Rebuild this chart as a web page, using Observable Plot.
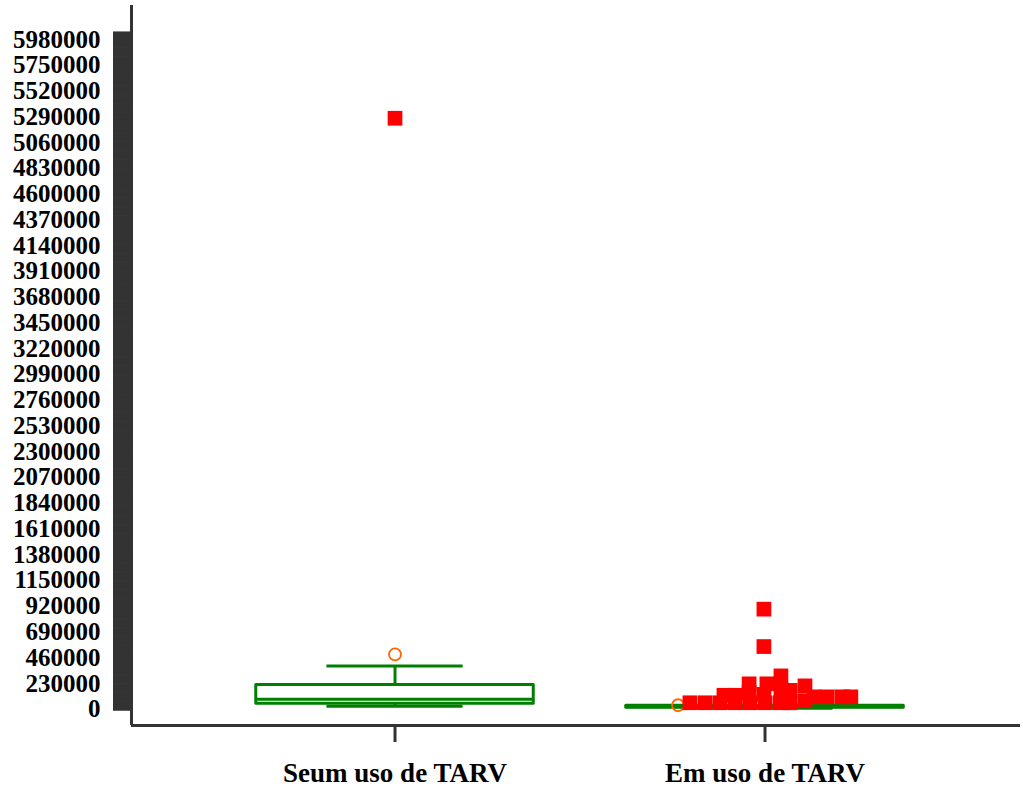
<!DOCTYPE html>
<html>
<head>
<meta charset="utf-8">
<script src="https://cdn.jsdelivr.net/npm/d3@7"></script>
<script src="https://cdn.jsdelivr.net/npm/@observablehq/plot@0.6"></script>
<style>
  html, body { margin: 0; padding: 0; background: #fff; }
</style>
</head>
<body>
<div id="chart"></div>
<script>
// Groups
const groups = ["Seum uso de TARV", "Em uso de TARV"];
const groupPos = [1, 2];

// Box statistics
const whiskerLow  = [27000, 10000];
const q1          = [49000, 13000];
const median      = [89000, 22000];
const q3          = [216000, 32000];
const whiskerHigh = [386000, 32000];

// Open circles (one per group)
const circleOffset = [0, -0.235];
const circleValue  = [490000, 36000];

// Red squares (jittered points)
const group1Offsets = [0];
const group1Values  = [5278000];
const group2Offsets = [-0.203, -0.162, -0.122, -0.081, -0.041, 0, 0.041, 0.068,
                       0.108, -0.111, -0.081, -0.043, 0.005, -0.043, -0.003,
                       0.043, 0.043, 0.068, 0.108, 0.132, 0.168, 0.208, 0.232,
                       -0.003, -0.003];
const group2Values  = [58000, 58000, 58000, 58000, 58000, 58000, 58000, 58000,
                       76000, 125000, 125000, 227000, 227000, 151000, 133000,
                       298000, 178000, 169000, 209000, 111000, 111000, 111000, 111000,
                       560000, 894000];

// Y tick labels
const yTicks = d3.range(0, 5980001, 230000);
const bandTicks = d3.range(0, 6040001, 20000);

const boxes = groups.map((g, i) => ({
  g, x: groupPos[i], lo: whiskerLow[i], q1: q1[i], med: median[i], q3: q3[i], hi: whiskerHigh[i]
}));
const circles = groups.map((g, i) => ({ x: groupPos[i] + circleOffset[i], y: circleValue[i] }));
const squares = [
  ...group1Values.map((v, i) => ({ x: groupPos[0] + group1Offsets[i], y: v })),
  ...group2Values.map((v, i) => ({ x: groupPos[1] + group2Offsets[i], y: v }))
];

const halfBox = 0.375, halfCap = 0.184;
const xDomain = [0.2878, 2.6905];
const yDomain = [-145000, 6285000];
const font = "'Liberation Serif', 'Times New Roman', serif";

const chart = Plot.plot({
  width: 1023,
  height: 787,
  marginLeft: 131,
  marginRight: 3,
  marginTop: 5,
  marginBottom: 62,
  style: { fontFamily: font, fontWeight: "bold", background: "#fff" },
  x: { type: "linear", domain: xDomain, label: null },
  y: { domain: yDomain, label: null },
  marks: [
    // dense tick band
    Plot.axisY(bandTicks, { tickSize: 18, strokeWidth: 3, stroke: "#333", tickFormat: () => "", label: null }),
    // labels
    Plot.axisY(yTicks, { tickSize: 0, tickPadding: 31, fontSize: 25, fill: "#000", label: null,
      fontWeight: "bold", fontFamily: font, tickFormat: d => String(d) }),
    Plot.axisX(groupPos, { tickSize: 17, tickPadding: 20, strokeWidth: 3, stroke: "#333", label: null,
      fill: "#000", fontSize: 27, fontWeight: "bold", fontFamily: font,
      tickFormat: d => groups[d - 1] }),
    Plot.ruleX([xDomain[0]], { y1: yDomain[0], y2: yDomain[1], stroke: "#333", strokeWidth: 3 }),
    Plot.ruleY([yDomain[0]], { x1: xDomain[0], x2: xDomain[1], stroke: "#333", strokeWidth: 3 }),
    // boxplot
    Plot.ruleX(boxes, { x: "x", y1: "q3", y2: "hi", stroke: "#008000", strokeWidth: 3 }),
    Plot.ruleX(boxes, { x: "x", y1: "lo", y2: "q1", stroke: "#008000", strokeWidth: 3 }),
    Plot.ruleY(boxes, { y: "hi", x1: d => d.x - halfCap, x2: d => d.x + halfCap, stroke: "#008000", strokeWidth: 3 }),
    Plot.ruleY(boxes, { y: "lo", x1: d => d.x - halfCap, x2: d => d.x + halfCap, stroke: "#008000", strokeWidth: 3 }),
    Plot.rect(boxes, { x1: d => d.x - halfBox, x2: d => d.x + halfBox, y1: "q1", y2: "q3",
      fill: "none", stroke: "#008000", strokeWidth: 3, strokeLinejoin: "round" }),
    Plot.ruleY(boxes, { y: "med", x1: d => d.x - halfBox, x2: d => d.x + halfBox, stroke: "#008000", strokeWidth: 3 }),
    // circles
    Plot.dot(circles, { x: "x", y: "y", r: 6, stroke: "#ff6600", strokeWidth: 1.8, fill: "none" }),
    // squares
    Plot.dot(squares, { x: "x", y: "y", symbol: "square", r: 8.3, fill: "#ff0000", stroke: "none" })
  ]
});
document.getElementById("chart").appendChild(chart);
</script>
</body>
</html>
